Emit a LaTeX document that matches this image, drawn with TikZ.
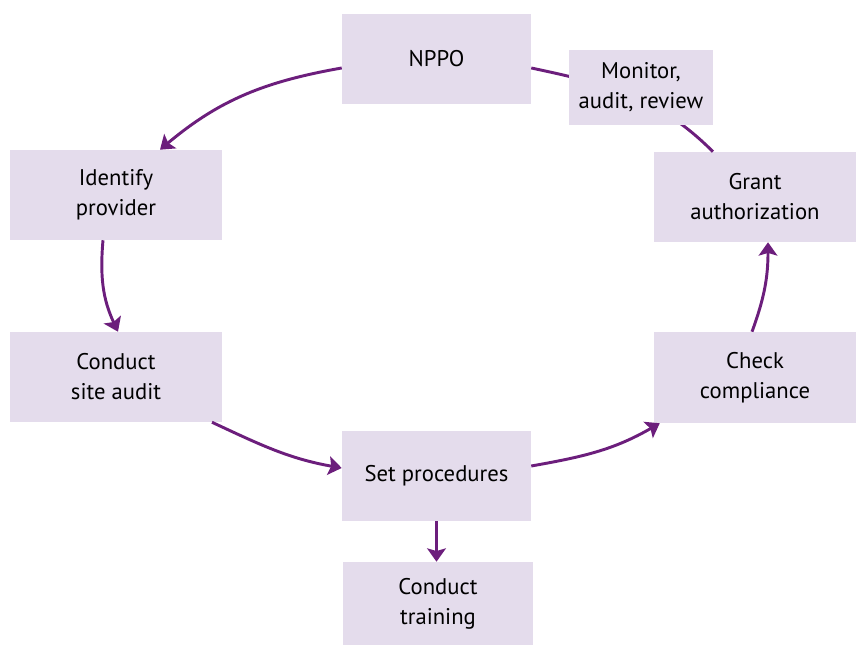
\documentclass[tikz,border=0pt]{standalone}
\usepackage{fontspec}
\setmainfont{PT Sans}
\usetikzlibrary{arrows.meta,positioning}
\definecolor{boxlilac}{RGB}{228,220,236}
\definecolor{cyclepurple}{RGB}{108,30,124}

\begin{document}
\begin{tikzpicture}[
    x=0.75pt, y=0.75pt,
    block/.style={rectangle, fill=boxlilac, minimum width=151.5pt, minimum height=67.5pt, align=center, inner sep=2pt, font=\fontsize{17}{22.5}\selectfont},
    arrow/.style={-{Stealth[length=10pt, width=14pt, inset=2pt]}, line width=2.2pt, color=cyclepurple},
    link/.style={line width=2.2pt, color=cyclepurple}
]
\useasboundingbox (0,0) rectangle (856,645);

\node[block, minimum width=141.75pt] (nppo) at (436.5,586) {NPPO};
\node[block, minimum width=159pt] (identify) at (116,450) {Identify\\provider};
\node[block, minimum width=159pt] (siteaudit) at (116,268) {Conduct\\site audit};
\node[block, minimum width=141.75pt] (setproc) at (436.5,169) {Set procedures};
\node[block, minimum width=142.5pt, minimum height=62.25pt] (training) at (438,41.5) {Conduct\\training};
\node[block, minimum height=68.25pt] (check) at (755,267.5) {Check\\compliance};
\node[block] (grant) at (755,448) {Grant\\authorization};

\draw[link] ([xshift=-31.5pt]grant.north) to[out=135, in=-12] ([yshift=-6.75pt]nppo.east);
\node[block, minimum width=108pt, minimum height=56.25pt] (monitor) at (641,557.5) {Monitor,\\audit, review};

\draw[arrow] ([yshift=-6.75pt]nppo.west) to[out=190, in=40] ([xshift=33pt]identify.north);
\draw[arrow] ([xshift=-9.75pt]identify.south) to[out=265, in=115] ([xshift=1.5pt]siteaudit.north);
\draw[arrow] ([xshift=72pt]siteaudit.south) to[out=-25, in=170] ([yshift=6pt]setproc.west);
\draw[arrow] ([yshift=7.5pt]setproc.east) to[out=10, in=210] ([xshift=4.5pt]check.south west);
\draw[arrow] ([xshift=-2.25pt]check.north) to[out=70, in=270] ([xshift=9.75pt]grant.south);
\draw[arrow] (setproc.south) -- (setproc.south |- training.north);

\end{tikzpicture}
\end{document}
